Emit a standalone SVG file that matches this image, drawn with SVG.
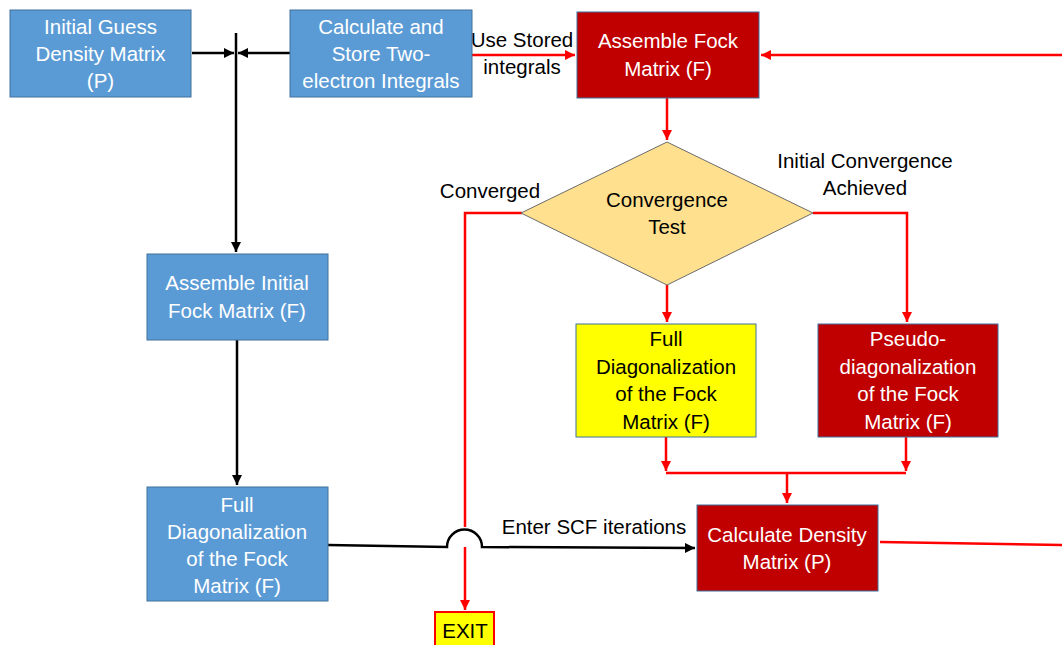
<svg xmlns="http://www.w3.org/2000/svg" width="1062" height="645" viewBox="0 0 1062 645">
<defs>
<marker id="ab" viewBox="0 0 10 10" refX="10" refY="5" markerWidth="4" markerHeight="4" orient="auto" markerUnits="strokeWidth"><path d="M0,0 L10,5 L0,10 z" fill="#000"/></marker>
<marker id="ar" viewBox="0 0 10 10" refX="10" refY="5" markerWidth="4" markerHeight="4" orient="auto" markerUnits="strokeWidth"><path d="M0,0 L10,5 L0,10 z" fill="#FF0000"/></marker>
</defs>
<style>
text{font-family:"Liberation Sans",Arial,sans-serif;font-size:20.5px;text-anchor:middle}
.blue{fill:#5B9BD5;stroke:#41719C;stroke-width:1}
.red{fill:#C00000;stroke:#41719C;stroke-width:1}
.yel{fill:#FFFF00;stroke:#41719C;stroke-width:1}
.w{fill:#FFFFFF}
.k{fill:#000000}
.cb{fill:none;stroke:#000;stroke-width:2.5}
.cr{fill:none;stroke:#FF0000;stroke-width:2.5}
</style>
<g id="connectors">
<path class="cb" d="M236,33 L236,252" marker-end="url(#ab)"/>
<path class="cb" d="M192,53 L234,53" marker-end="url(#ab)"/>
<path class="cb" d="M290,53 L238,53" marker-end="url(#ab)"/>
<path class="cb" d="M237,340 L237,485" marker-end="url(#ab)"/>
<path class="cb" d="M328,545 L447,547 A17.5,17.5 0 0 1 482,547 L695,548" marker-end="url(#ab)"/>
<path class="cr" d="M472,55 L575,55" marker-end="url(#ar)"/>
<path class="cr" d="M1062,55 L761,55" marker-end="url(#ar)"/>
<path class="cr" d="M667,98 L667,140" marker-end="url(#ar)"/>
<path class="cr" d="M522,213 L465,213 L465,527"/>
<path class="cr" d="M465,547 L465,610" marker-end="url(#ar)"/>
<path class="cr" d="M813,213 L907,213 L907,322" marker-end="url(#ar)"/>
<path class="cr" d="M667,285 L667,322" marker-end="url(#ar)"/>
<path class="cr" d="M666,437 L666,471" marker-end="url(#ar)"/>
<path class="cr" d="M906,437 L906,471" marker-end="url(#ar)"/>
<path class="cr" d="M666,473 L906,473"/>
<path class="cr" d="M787,473 L787,503" marker-end="url(#ar)"/>
<path class="cr" d="M880,542 L1062,545"/>
<text class="k" x="522" y="47">Use Stored</text>
<text class="k" x="522" y="74">integrals</text>
<text class="k" x="490" y="198">Converged</text>
<text class="k" x="865" y="168">Initial Convergence</text>
<text class="k" x="865" y="195">Achieved</text>
<text class="k" x="594" y="534">Enter SCF iterations</text>
</g>
<g id="initial-guess">
<rect class="blue" x="10" y="10" width="181" height="87"/>
<text class="w" x="100.5" y="34">Initial Guess</text>
<text class="w" x="100.5" y="61">Density Matrix</text>
<text class="w" x="100.5" y="88">(P)</text>
</g>
<g id="calc-store">
<rect class="blue" x="290" y="10" width="182" height="87"/>
<text class="w" x="381" y="34">Calculate and</text>
<text class="w" x="381" y="61">Store Two-</text>
<text class="w" x="381" y="88">electron Integrals</text>
</g>
<g id="assemble-fock">
<rect class="red" x="577" y="12" width="182" height="86"/>
<text class="w" x="668" y="48">Assemble Fock</text>
<text class="w" x="668" y="76">Matrix (F)</text>
</g>
<g id="convergence-test">
<path d="M667,142 L813,213 L667,285 L521,213 z" fill="#FFE08E" stroke="#6b6b6b" stroke-width="1"/>
<text class="k" x="667" y="207">Convergence</text>
<text class="k" x="667" y="234">Test</text>
</g>
<g id="assemble-initial">
<rect class="blue" x="147" y="254" width="181" height="86"/>
<text class="w" x="237" y="290">Assemble Initial</text>
<text class="w" x="237" y="318">Fock Matrix (F)</text>
</g>
<g id="full-diag-initial">
<rect class="blue" x="147" y="487" width="181" height="114"/>
<text class="w" x="237" y="512">Full</text>
<text class="w" x="237" y="539">Diagonalization</text>
<text class="w" x="237" y="566">of the Fock</text>
<text class="w" x="237" y="593">Matrix (F)</text>
</g>
<g id="full-diag">
<rect class="yel" x="576" y="324" width="180" height="113"/>
<text class="k" x="666" y="346">Full</text>
<text class="k" x="666" y="374">Diagonalization</text>
<text class="k" x="666" y="401">of the Fock</text>
<text class="k" x="666" y="429">Matrix (F)</text>
</g>
<g id="pseudo-diag">
<rect class="red" x="818" y="324" width="180" height="113"/>
<text class="w" x="908" y="346">Pseudo-</text>
<text class="w" x="908" y="374">diagonalization</text>
<text class="w" x="908" y="401">of the Fock</text>
<text class="w" x="908" y="429">Matrix (F)</text>
</g>
<g id="calc-density">
<rect class="red" x="697" y="505" width="181" height="86"/>
<text class="w" x="787" y="542">Calculate Density</text>
<text class="w" x="787" y="569">Matrix (P)</text>
</g>
<g id="exit">
<rect x="435" y="612" width="59" height="40" fill="#FFFF00" stroke="#FF0000" stroke-width="2"/>
<text class="k" x="465" y="638">EXIT</text>
</g>
</svg>
